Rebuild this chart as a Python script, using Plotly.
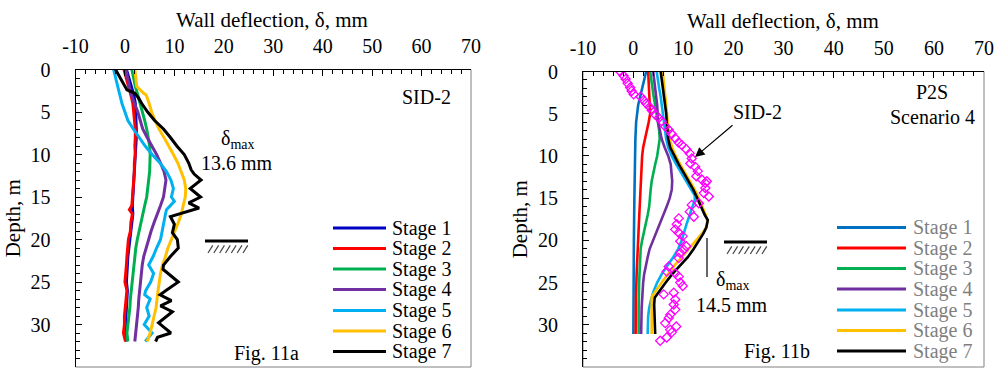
import plotly.graph_objects as go

# ---------------- data ----------------
stage_names = ["Stage 1", "Stage 2", "Stage 3", "Stage 4", "Stage 5", "Stage 6", "Stage 7"]
colors_a = ["#0000C0", "#FF0000", "#00B050", "#7030A0", "#00B0F0", "#FFC000", "#000000"]
colors_b = ["#0070C0", "#FF0000", "#00B050", "#7030A0", "#00B0F0", "#FFC000", "#000000"]

x_title = "Wall deflection, δ, mm"
y_title = "Depth, m"
x_tick_vals = [-10, 0, 10, 20, 30, 40, 50, 60, 70]
x_tick_text = ["-10", "0", "10", "20", "30", "40", "50", "60", "70"]
y_tick_vals = [0, 5, 10, 15, 20, 25, 30, 35]
y_tick_text = ["0", "5", "10", "15", "20", "25", "30", "35"]

# Fig. 11a  (SID-2 inclinometer, stages 1-7)
a_depth_1 = [0,1,2,3,4,5,6,7,8,9,10,11,12,13,14,15,16,17,18,19,20,21,22,23,24,25,26,27,28,29,30,31,32]
a_defl_1 = [0.3,0.8,1.3,1.8,2.1,2.2,2.3,2.3,2.3,2.2,2.2,2.1,2.0,1.9,1.8,1.7,1.5,1.6,1.4,1.2,0.9,0.8,0.6,0.5,0.4,0.3,0.5,0.4,0.3,0.2,0.1,0.0,0.3]
a_depth_2 = [0,1,2,3,4,5,6,7,8,9,10,11,12,13,14,15,16,16.5,17,18,19,20,21,22,23,24,25,26,27,28,29,30,31,32]
a_defl_2 = [-0.2,0.3,0.8,1.2,1.6,1.8,2.0,2.1,2.1,2.0,2.1,1.9,1.9,1.8,1.6,1.6,1.4,0.9,1.5,1.2,1.1,0.7,0.5,0.4,0.3,0.1,0.0,0.4,0.2,0.1,-0.1,-0.1,-0.3,0.1]
a_depth_3 = [0,1,2,3,4,5,6,7,8,9,10,11,12,13,14,15,16,17,18,19,20,21,22,23,24,25,26,27,28,29,30,31,32]
a_defl_3 = [1.4,1.7,2.1,2.6,3.1,3.6,4.0,4.4,4.7,5.0,5.1,5.1,5.0,4.8,4.6,4.4,4.0,3.6,3.3,2.8,2.5,2.2,2.0,1.8,1.7,1.5,1.3,1.1,1.0,0.8,0.7,0.4,0.6]
a_depth_4 = [0,1,2,3,4,5,6,7,8,9,10,11,12,13,14,15,16,17,18,19,20,21,22,23,24,25,26,27,28,29,30,31,32]
a_defl_4 = [0.2,0.5,0.9,1.3,2.0,2.6,3.1,3.6,4.5,5.5,6.4,7.2,7.9,8.3,8.1,7.8,7.2,6.5,5.9,5.3,4.8,4.2,3.8,3.5,3.3,3.1,3.0,2.8,2.7,2.5,2.3,2.1,2.0]
a_depth_5 = [0,1,2,3,4,5,6,7,8,9,10,11,12,13,14,15,15.5,16,16.5,17,18,19,20,21,22,23,24,25,26,26.5,27,28,29,30,31,32]
a_defl_5 = [-2.3,-1.9,-1.5,-1.1,-0.6,0.0,0.6,1.7,2.9,4.1,5.5,7.1,8.4,9.3,9.8,9.4,10.0,9.2,8.4,8.2,7.9,7.6,7.2,6.4,5.7,4.8,5.8,5.2,4.2,4.0,5.1,4.4,4.9,3.9,5.5,4.1]
a_depth_6 = [0,1,2,2.8,3,4,5,6,7,8,9,10,11,12,13,14,15,16,17,18,19,20,21,22,23,24,25,26,27,28,29,30,31,32]
a_defl_6 = [2.0,2.2,2.4,3.8,4.3,4.9,5.4,6.1,6.9,7.9,8.9,9.8,10.7,11.4,12.0,12.3,12.2,11.8,11.4,10.8,10.1,9.4,8.7,8.2,7.6,7.2,6.9,6.7,6.5,6.3,5.9,5.5,5.1,4.5]
a_depth_7 = [0,1,1.5,2.4,2.8,3.4,4,5,6,7,8,9,10,11,11.8,12.3,13,14,15,15.7,16.3,17.3,18.2,19.2,20,21,22,23,23.5,24.4,25,26,26.5,27.2,27.8,28.5,29.8,31,31.5,32]
a_defl_7 = [-1.9,-1.0,-0.5,0.4,2.0,2.8,3.4,4.6,6.0,7.8,9.2,10.5,12.0,12.9,13.4,14.0,15.4,13.2,15.3,12.9,15.0,9.2,10.0,9.6,10.6,10.8,9.2,7.8,7.7,9.6,10.8,8.3,7.1,9.4,7.2,9.6,6.8,9.3,6.6,6.2]

# Fig. 11b  (P2S Scenario 4, stages 1-7)
b_depth_1 = [0,1,2,3,4,5,6,8,10,12,15,20,25,31.1]
b_defl_1 = [2.6,2.2,1.7,1.3,1.0,0.8,0.6,0.45,0.35,0.3,0.25,0.15,0.1,0.05]
b_depth_2 = [0,2,4,5,6,7,8,9,10,12,14,16,18,20,22,24,27,31.1]
b_defl_2 = [3.0,3.2,3.4,3.4,3.1,2.7,2.3,2.0,1.8,1.6,1.4,1.3,1.15,1.0,0.8,0.7,0.55,0.5]
b_depth_3 = [0,1,2,3,4,5,6,7,8,9,10,11,12,13,14,15,16,17,18,19,20,21,22,23,25,28,31.1]
b_defl_3 = [3.4,3.6,3.8,4.1,4.4,4.7,5.0,5.2,5.3,5.1,4.8,4.4,4.0,3.7,3.5,3.4,3.2,2.9,2.5,2.1,1.8,1.5,1.4,1.3,1.2,1.1,1.1]
b_depth_4 = [0,2,4,6,7,8,9,10,11,12,13,14,15,16,17,18,19,20,21,22,23,24,25,26,28,31.1]
b_defl_4 = [4.0,4.4,4.8,5.0,5.3,5.7,6.3,7.0,7.5,7.7,7.8,7.7,7.3,6.7,6.0,5.4,4.7,4.0,3.3,2.9,2.5,2.2,2.0,1.9,1.7,1.6]
b_depth_5 = [0,1,2,3,4,5,6,7,8,9,10,11,12,13,14,14.7,15.2,16,17,18,19,20,21,22,23,24,25,26,27,28,29,31.1]
b_defl_5 = [4.7,4.9,5.2,5.5,5.7,5.9,6.1,6.4,6.6,7.0,7.7,8.6,9.6,10.6,11.5,12.3,12.3,11.8,11.3,10.7,10.2,9.7,9.0,8.0,6.8,5.7,4.8,4.1,3.6,3.2,3.0,2.9]
b_depth_6 = [0,2,4,6,7,8,9,10,11,12,13,14,15,16,17,17.8,18.5,19,20,21,22,23,24,25,26,26.7,31.1]
b_defl_6 = [5.9,6.3,6.6,6.9,7.1,7.3,7.8,8.5,9.4,10.4,11.4,12.3,13.1,13.8,14.5,14.8,14.5,14.0,12.6,11.2,9.7,8.2,6.9,5.7,4.5,3.7,3.7]
b_depth_7 = [0,2,3,4,5,6,7,8,9,10,11,12,13,14,15,16,17,17.6,18.5,19.2,20,21,22,23,24,25,26,26.8,27.6,31.1]
b_defl_7 = [5.5,6.0,6.2,6.4,6.6,6.7,6.8,7.0,7.4,8.2,9.1,10.1,11.1,12.0,12.8,13.5,14.3,14.9,14.6,14.0,13.2,12.1,10.9,9.3,7.8,6.5,5.3,4.3,4.2,4.4]

# SID-2 measured profile shown on Fig. 11b
sid2_depth = [0.0,0.5,0.9,1.4,1.9,2.3,2.7,3.0,3.4,3.8,4.2,4.6,5.1,5.5,5.9,6.5,6.9,7.4,7.9,8.4,8.7,9.2,9.7,10.3,10.9,11.3,11.8,12.4,12.8,13.0,13.2,13.8,14.4,14.8,15.6,15.8,16.6,17.2,17.4,18.1,18.7,19.1,19.5,20.1,20.7,21.1,21.5,22.1,23.1,23.7,23.9,24.3,25.0,25.4,26.2,26.4,27.0,27.6,28.2,28.8,29.2,29.8,30.2,30.6,30.9,31.5,31.9]
sid2_defl = [-2.6,-1.9,-1.5,-1.1,-0.6,-0.3,0.1,1.5,2.1,2.6,3.3,3.7,4.4,5.1,5.7,6.4,7.1,7.7,8.4,9.1,9.7,10.6,11.3,11.7,11.4,12.4,12.9,12.6,13.7,14.7,14.4,14.4,14.1,15.1,13.1,11.7,11.3,12.1,9.1,8.7,8.4,9.1,9.9,9.4,10.6,10.1,9.4,9.1,7.1,6.7,8.4,9.1,9.4,9.9,8.1,6.1,8.4,8.1,8.4,7.4,7.1,6.4,8.6,7.4,7.7,6.7,5.4]

a_depths = [a_depth_1, a_depth_2, a_depth_3, a_depth_4, a_depth_5, a_depth_6, a_depth_7]
a_defls = [a_defl_1, a_defl_2, a_defl_3, a_defl_4, a_defl_5, a_defl_6, a_defl_7]
b_depths = [b_depth_1, b_depth_2, b_depth_3, b_depth_4, b_depth_5, b_depth_6, b_depth_7]
b_defls = [b_defl_1, b_defl_2, b_defl_3, b_defl_4, b_defl_5, b_defl_6, b_defl_7]

# ---------------- layout helpers ----------------
W, H = 996, 374
ML, MR, MT, MB = 75, 12, 69, 7
FONT = "Liberation Serif"


def X(px):
    return (px - ML) / (W - ML - MR)


def Y(py):
    return (H - MB - py) / (H - MB - MT)


fig = go.Figure()

for i in range(7):
    fig.add_trace(go.Scatter(x=a_defls[i], y=a_depths[i], mode="lines", name=stage_names[i],
                             line=dict(color=colors_a[i], width=3), xaxis="x", yaxis="y",
                             showlegend=False))
for i in range(7):
    fig.add_trace(go.Scatter(x=b_defls[i], y=b_depths[i], mode="lines", name=stage_names[i],
                             line=dict(color=colors_b[i], width=2.6), xaxis="x2", yaxis="y2",
                             showlegend=False))
fig.add_trace(go.Scatter(x=sid2_defl, y=sid2_depth, mode="markers", name="SID-2",
                         marker=dict(symbol="diamond-open", size=7, color="#FF00FF",
                                     line=dict(width=1.3, color="#FF00FF")),
                         xaxis="x2", yaxis="y2", showlegend=False))

L_X0, L_X1, L_Y0, L_Y1 = 75.5, 471, 69.5, 367
R_X0, R_X1, R_Y0, R_Y1 = 583, 984, 71.5, 367


def xaxis(domain, anchor):
    return dict(domain=domain, anchor=anchor, side="top", range=[-10, 70], automargin=False,
                tickmode="array", tickvals=x_tick_vals, ticktext=x_tick_text,
                ticks="inside", ticklen=6, tickwidth=1, tickcolor="black",
                minor=dict(dtick=2, tick0=0, ticks="inside", ticklen=4, tickcolor="black", tickwidth=1),
                showline=True, linecolor="black", linewidth=1, showgrid=False, zeroline=False,
                tickfont=dict(family=FONT, size=20, color="black"),
                ticklabelstandoff=8)


def yaxis(domain, anchor):
    return dict(domain=domain, anchor=anchor, range=[35, 0], automargin=False,
                tickmode="array", tickvals=y_tick_vals, ticktext=y_tick_text,
                ticks="inside", ticklen=6, tickwidth=1, tickcolor="black",
                minor=dict(dtick=1, tick0=0, ticks="inside", ticklen=4, tickcolor="black", tickwidth=1),
                showline=True, linecolor="black", linewidth=1, showgrid=False, zeroline=False,
                tickfont=dict(family=FONT, size=20, color="black"),
                ticklabelstandoff=20,
                title=dict(text=y_title, font=dict(family=FONT, size=21, color="black"),
                           standoff=4))


shapes = []
annotations = []

# gray frames
for (x0, x1, y0, y1) in [(L_X0, L_X1, L_Y0, L_Y1), (R_X0, R_X1, R_Y0, R_Y1)]:
    shapes.append(dict(type="rect", xref="paper", yref="paper", x0=X(x0), x1=X(x1), y0=Y(y1), y1=Y(y0),
                       line=dict(color="#808080", width=1), layer="below"))

# legends (drawn manually)
leg_rows = [228, 248.5, 269, 289.5, 310.5, 331, 351.5]
for i in range(7):
    ry = leg_rows[i]
    shapes.append(dict(type="line", xref="paper", yref="paper", x0=X(333), x1=X(386), y0=Y(ry), y1=Y(ry),
                       line=dict(color=colors_a[i], width=3)))
    annotations.append(dict(xref="paper", yref="paper", x=X(390), y=Y(ry), text=stage_names[i],
                            showarrow=False, xanchor="left", yanchor="middle",
                            font=dict(family=FONT, size=20, color="black")))
    shapes.append(dict(type="line", xref="paper", yref="paper", x0=X(837), x1=X(906), y0=Y(ry - 0.5), y1=Y(ry - 0.5),
                       line=dict(color=colors_b[i], width=3)))
    annotations.append(dict(xref="paper", yref="paper", x=X(911), y=Y(ry - 0.5), text=stage_names[i],
                            showarrow=False, xanchor="left", yanchor="middle",
                            font=dict(family=FONT, size=20, color="#7F7F7F")))


def txt(px, py, s, size=20, anchor="center"):
    annotations.append(dict(xref="paper", yref="paper", x=X(px), y=Y(py), text=s, showarrow=False,
                            xanchor=anchor, yanchor="middle", font=dict(family=FONT, size=size, color="black")))


# x-axis titles (top)
txt(272, 20, x_title, size=21)
txt(783, 21, x_title, size=21)
# left annotations
txt(426, 97, "SID-2")
txt(238, 139, "δ<sub>max</sub>")
txt(237, 163, "13.6 mm")
txt(266, 353, "Fig. 11a")
# right annotations
txt(932, 92, "P2S")
txt(932, 117, "Scenario 4")
txt(757, 112, "SID-2")
txt(733, 280, "δ<sub>max</sub>")
txt(732, 305, "14.5 mm")
txt(777, 351, "Fig. 11b")

# arrow to SID-2 profile
annotations.append(dict(xref="paper", yref="paper", x=X(695), y=Y(157), ax=39, ay=-33, text="",
                        showarrow=True, arrowhead=2, arrowsize=1.6, arrowwidth=1.2, arrowcolor="black"))
# delta max tick (right)
shapes.append(dict(type="line", xref="paper", yref="paper", x0=X(707), x1=X(707), y0=Y(238), y1=Y(277),
                   line=dict(color="black", width=1.2)))


# excavation level symbols
def ground(x0, x1, py):
    shapes.append(dict(type="line", xref="paper", yref="paper", x0=X(x0), x1=X(x1), y0=Y(py), y1=Y(py),
                       line=dict(color="black", width=3)))
    n = 7
    step = (x1 - x0 - 8) / (n - 1)
    for k in range(n):
        hx = x0 + 3 + k * step
        shapes.append(dict(type="line", xref="paper", yref="paper", x0=X(hx), x1=X(hx + 5),
                           y0=Y(py + 12), y1=Y(py + 4), line=dict(color="#444444", width=1.2, dash="dash")))


ground(205, 248, 241)
ground(724, 767, 242)

fig.update_layout(
    width=W, height=H, margin=dict(l=ML, r=MR, t=MT, b=MB, autoexpand=False),
    paper_bgcolor="white", plot_bgcolor="white", showlegend=False,
    xaxis=xaxis([X(L_X0), X(L_X1)], "y"),
    yaxis=yaxis([Y(L_Y1), min(1.0, Y(L_Y0))], "x"),
    xaxis2=xaxis([X(R_X0), min(1.0, X(R_X1))], "y2"),
    yaxis2=yaxis([Y(R_Y1), Y(R_Y0)], "x2"),
    shapes=shapes, annotations=annotations,
    font=dict(family=FONT, size=20, color="black"),
)

fig.write_html("out.html")
